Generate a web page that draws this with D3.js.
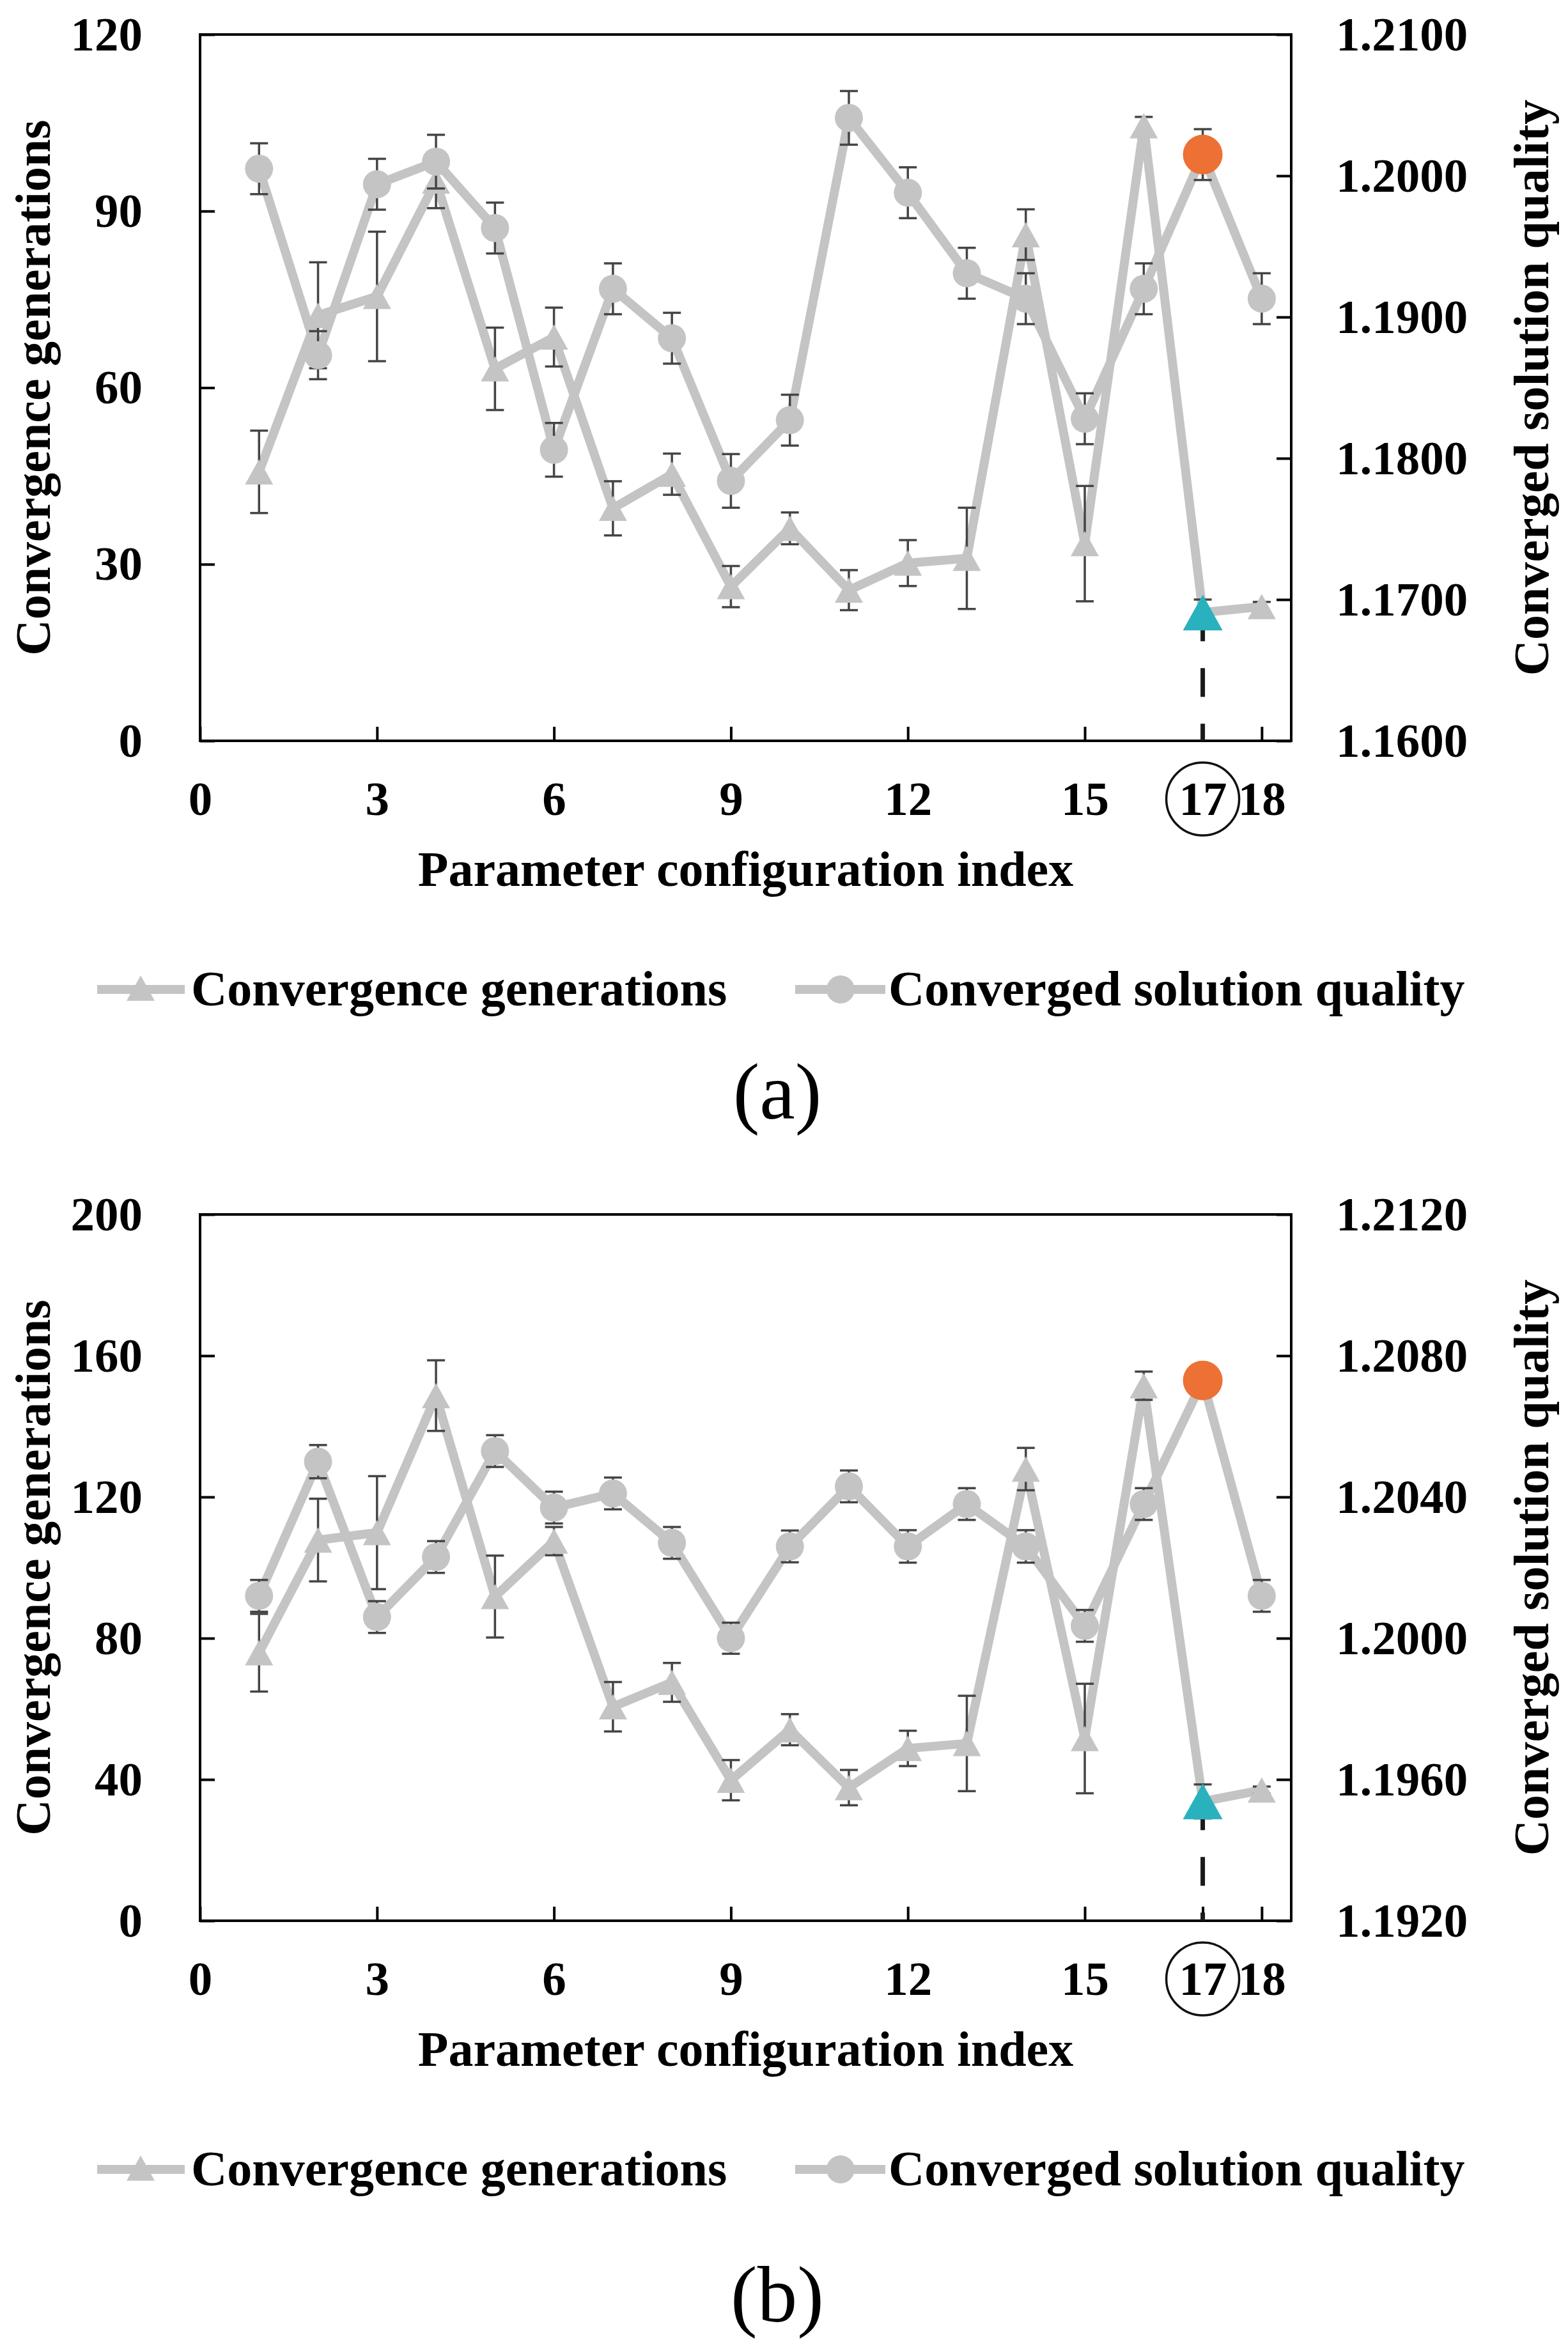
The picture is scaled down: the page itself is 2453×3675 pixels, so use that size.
<!DOCTYPE html>
<html>
<head>
<meta charset="utf-8">
<script src="https://cdn.jsdelivr.net/npm/d3@7"></script>
<style>
  body { margin: 0; background: #fff; }
</style>
</head>
<body>
<svg id="chart"></svg>
<script>
var W = 2453, H = 3675;

// configuration index (x values)
var configIdx = [1, 2, 3, 4, 5, 6, 7, 8, 9, 10, 11, 12, 13, 14, 15, 16, 17, 18];
var xTicks = [0, 3, 6, 9, 12, 15, 17, 18];

// panel (a)
var genA     = [45.7, 72.3, 75.5, 95.1, 63.2, 68.6, 39.5, 45.3, 26.2, 36.1, 25.6, 30.2, 31.0, 86.0, 33.5, 104.5, 21.8, 22.8];
var genErrA  = [7.0, 9.0, 11.0, 4.6, 7.0, 5.0, 4.6, 3.5, 3.5, 2.7, 3.4, 3.9, 8.6, 4.3, 9.8, 1.5, 2.2, 0.8];
var qualA    = [1.2005, 1.1873, 1.1994, 1.2010, 1.1963, 1.1806, 1.1920, 1.1885, 1.1784, 1.1827, 1.2041, 1.1988, 1.1931, 1.1913, 1.1828, 1.1920, 1.2015, 1.1913];
var qualErrA = [0.0018, 0.0017, 0.0018, 0.0019, 0.0018, 0.0019, 0.0018, 0.0018, 0.0019, 0.0018, 0.0019, 0.0018, 0.0018, 0.0018, 0.0018, 0.0018, 0.0018, 0.0018];
var leftTicksA  = [0, 30, 60, 90, 120];
var rightTicksA = [1.16, 1.17, 1.18, 1.19, 1.20, 1.21];

// panel (b)
var genB     = [75.9, 107.8, 109.9, 148.7, 91.8, 107.5, 60.6, 67.5, 39.8, 54.1, 37.7, 48.8, 50.2, 127.9, 51.6, 151.5, 33.8, 37.0];
var genErrB  = [11.0, 11.7, 16.0, 10.0, 11.6, 4.0, 7.0, 5.5, 5.7, 4.4, 5.0, 5.0, 13.5, 6.0, 15.5, 4.0, 4.8, 1.0];
var qualB    = [1.2012, 1.2050, 1.2006, 1.2023, 1.2053, 1.2037, 1.2041, 1.2027, 1.2000, 1.2026, 1.2043, 1.2026, 1.2038, 1.2026, 1.20035, 1.2038, 1.2073, 1.2012];
var qualErrB = [0.00045, 0.00047, 0.00045, 0.00045, 0.00045, 0.00045, 0.00045, 0.00045, 0.00044, 0.00045, 0.00045, 0.00046, 0.00045, 0.00046, 0.00045, 0.00045, 0.0004, 0.00045];
var leftTicksB  = [0, 40, 80, 120, 160, 200];
var rightTicksB = [1.192, 1.196, 1.200, 1.204, 1.208, 1.212];

var seriesNames = ['Convergence generations', 'Converged solution quality'];
var bestIdx = 17;

var grey = '#c4c4c4';
var errColor = '#454545';
var orange = '#ed7034';
var teal = '#2ab1be';
var serif = '"Liberation Serif", "Times New Roman", serif';

var svg = d3.select('#chart').attr('width', W).attr('height', H);
svg.append('rect').attr('width', W).attr('height', H).attr('fill', '#fff');

// plot box (pixels), shared by both panels
var plotL = 313, plotR = 2020, plotT = 54, plotB = 1159;

function triPath(s) {
  var h = s * 0.9;
  return 'M0,' + (-h / 2) + 'L' + (s / 2) + ',' + (h / 2) + 'L' + (-s / 2) + ',' + (h / 2) + 'Z';
}

function drawPanel(dy, gen, genErr, qual, qualErr, leftTicks, rightTicks) {
  var g = svg.append('g').attr('transform', 'translate(0,' + dy + ')');

  var x = d3.scaleLinear().domain([0, 18.5]).range([plotL, plotR]);
  var yL = d3.scaleLinear().domain([leftTicks[0], leftTicks[leftTicks.length - 1]]).range([plotB, plotT]);
  var yR = d3.scaleLinear().domain([rightTicks[0], rightTicks[rightTicks.length - 1]]).range([plotB, plotT]);

  var gens = configIdx.map(function (d, i) { return {i: d, v: gen[i], e: genErr[i]}; });
  var quals = configIdx.map(function (d, i) { return {i: d, v: qual[i], e: qualErr[i]}; });

  // axes
  var ax = g.append('g').attr('transform', 'translate(' + plotL + ',0)')
    .call(d3.axisLeft(yL).tickValues(leftTicks).tickSize(-23).tickSizeOuter(0).tickPadding(90).tickFormat(d3.format('d')));
  var axR = g.append('g').attr('transform', 'translate(' + plotR + ',0)')
    .call(d3.axisRight(yR).tickValues(rightTicks).tickSize(-23).tickSizeOuter(0).tickPadding(70).tickFormat(d3.format('.4f')));
  var axB = g.append('g').attr('transform', 'translate(0,' + plotB + ')')
    .call(d3.axisBottom(x).tickValues(xTicks).tickSize(-22).tickSizeOuter(0).tickPadding(63).tickFormat(d3.format('d')));

  [ax, axR, axB].forEach(function (a) {
    a.select('.domain').remove();
    a.selectAll('line').attr('stroke', '#000').attr('stroke-width', 4);
    a.selectAll('text').attr('fill', '#000');
    a.attr('font-family', serif).attr('font-size', 75).attr('font-weight', 'bold');
  });

  // frame
  g.append('rect')
    .attr('x', plotL).attr('y', plotT)
    .attr('width', plotR - plotL).attr('height', plotB - plotT)
    .attr('fill', 'none').attr('stroke', '#000').attr('stroke-width', 4);

  // circle round the best index label
  g.append('circle')
    .attr('cx', x(bestIdx)).attr('cy', 1250).attr('r', 57)
    .attr('fill', 'none').attr('stroke', '#111').attr('stroke-width', 3.5);

  // titles
  g.append('text')
    .attr('x', (plotL + plotR) / 2).attr('y', 1386)
    .attr('text-anchor', 'middle')
    .attr('font-family', serif).attr('font-size', 78).attr('font-weight', 'bold')
    .text('Parameter configuration index');
  g.append('text')
    .attr('transform', 'translate(78,' + ((plotT + plotB) / 2) + ') rotate(-90)')
    .attr('text-anchor', 'middle')
    .attr('font-family', serif).attr('font-size', 78).attr('font-weight', 'bold')
    .text(seriesNames[0]);
  g.append('text')
    .attr('transform', 'translate(2422,' + ((plotT + plotB) / 2) + ') rotate(-90)')
    .attr('text-anchor', 'middle')
    .attr('font-family', serif).attr('font-size', 78).attr('font-weight', 'bold')
    .text('Converged solution quality');

  // dashed marker line under best point
  var best = gens[bestIdx - 1];
  g.append('line')
    .attr('x1', x(best.i)).attr('x2', x(best.i))
    .attr('y1', yL(best.v)).attr('y2', plotB)
    .attr('stroke', '#1a1a1a').attr('stroke-width', 7)
    .attr('stroke-dasharray', '45,42');

  function series(data, y, shape) {
    g.append('path')
      .datum(data)
      .attr('fill', 'none')
      .attr('stroke', grey)
      .attr('stroke-width', 14)
      .attr('stroke-linejoin', 'round')
      .attr('d', d3.line().x(function (d) { return x(d.i); }).y(function (d) { return y(d.v); }));

    var eb = g.append('g').attr('stroke', errColor).attr('stroke-width', 3.5);
    eb.selectAll('.stem').data(data).enter().append('line')
      .attr('x1', function (d) { return x(d.i); }).attr('x2', function (d) { return x(d.i); })
      .attr('y1', function (d) { return y(d.v - d.e); }).attr('y2', function (d) { return y(d.v + d.e); });
    eb.selectAll('.capT').data(data).enter().append('line')
      .attr('x1', function (d) { return x(d.i) - 14; }).attr('x2', function (d) { return x(d.i) + 14; })
      .attr('y1', function (d) { return y(d.v + d.e); }).attr('y2', function (d) { return y(d.v + d.e); });
    eb.selectAll('.capB').data(data).enter().append('line')
      .attr('x1', function (d) { return x(d.i) - 14; }).attr('x2', function (d) { return x(d.i) + 14; })
      .attr('y1', function (d) { return y(d.v - d.e); }).attr('y2', function (d) { return y(d.v - d.e); });

    var pts = data.filter(function (d) { return d.i !== bestIdx; });
    if (shape === 'tri') {
      g.selectAll('.tri').data(pts).enter().append('path')
        .attr('transform', function (d) { return 'translate(' + x(d.i) + ',' + y(d.v) + ')'; })
        .attr('d', triPath(44)).attr('fill', grey);
    } else {
      g.selectAll('.dot').data(pts).enter().append('circle')
        .attr('cx', function (d) { return x(d.i); }).attr('cy', function (d) { return y(d.v); })
        .attr('r', 22).attr('fill', grey);
    }
  }

  series(gens, yL, 'tri');
  series(quals, yR, 'dot');

  // highlighted best configuration
  var bq = quals[bestIdx - 1];
  g.append('path')
    .attr('transform', 'translate(' + x(best.i) + ',' + yL(best.v) + ')')
    .attr('d', triPath(62)).attr('fill', teal);
  g.append('circle')
    .attr('cx', x(bq.i)).attr('cy', yR(bq.v)).attr('r', 31).attr('fill', orange);

  // legend
  var lg = g.append('g').attr('transform', 'translate(0,1548)');
  lg.append('line').attr('x1', 152).attr('x2', 289).attr('stroke', grey).attr('stroke-width', 14);
  lg.append('path').attr('transform', 'translate(220,-2)').attr('d', triPath(44)).attr('fill', grey);
  lg.append('text').attr('x', 299).attr('y', 25)
    .attr('font-family', serif).attr('font-size', 78).attr('font-weight', 'bold')
    .text(seriesNames[0]);
  lg.append('line').attr('x1', 1244).attr('x2', 1385).attr('stroke', grey).attr('stroke-width', 14);
  lg.append('circle').attr('cx', 1315).attr('cy', 0).attr('r', 22).attr('fill', grey);
  lg.append('text').attr('x', 1390).attr('y', 25)
    .attr('font-family', serif).attr('font-size', 78).attr('font-weight', 'bold')
    .text(seriesNames[1]);
}

drawPanel(0, genA, genErrA, qualA, qualErrA, leftTicksA, rightTicksA);
drawPanel(1846, genB, genErrB, qualB, qualErrB, leftTicksB, rightTicksB);

svg.append('text').attr('x', 1216).attr('y', 1750).attr('text-anchor', 'middle')
  .attr('font-family', serif).attr('font-size', 125).text('(a)');
svg.append('text').attr('x', 1216).attr('y', 3632).attr('text-anchor', 'middle')
  .attr('font-family', serif).attr('font-size', 125).text('(b)');
</script>
</body>
</html>
